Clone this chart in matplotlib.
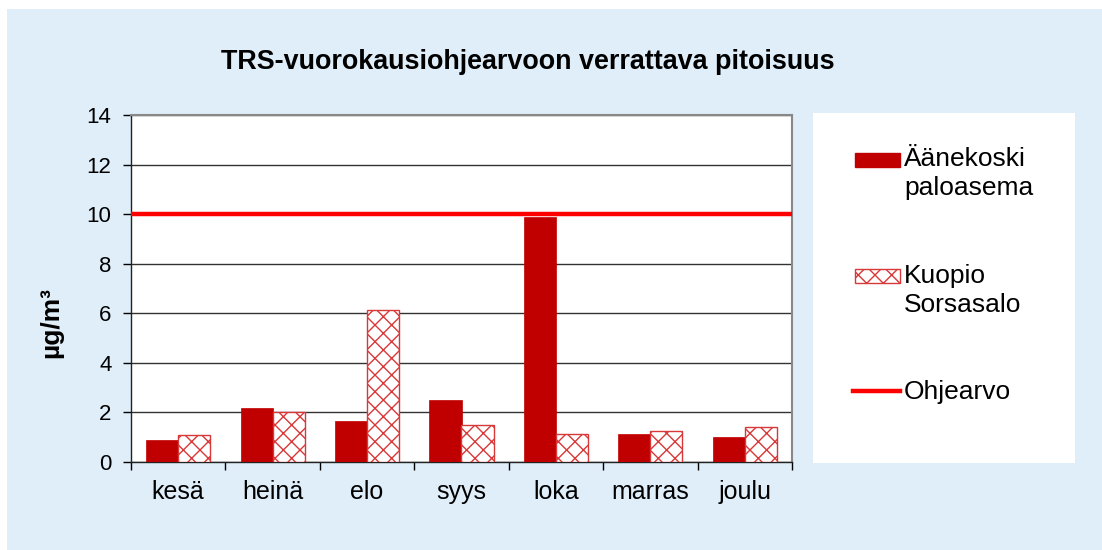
import numpy as np
import matplotlib
matplotlib.use('Agg')
import matplotlib.pyplot as plt
from matplotlib.patches import Rectangle

plt.rcParams['font.family'] = ['Liberation Sans', 'DejaVu Sans']
plt.rcParams['hatch.linewidth'] = 1.0

# data
months = ['kesä', 'heinä', 'elo', 'syys', 'loka', 'marras', 'joulu']
aanekoski = [0.88, 2.19, 1.67, 2.50, 9.90, 1.14, 1.01]
kuopio = [1.09, 2.03, 6.14, 1.48, 1.13, 1.26, 1.40]
ohjearvo = 10
yticks = [0, 2, 4, 6, 8, 10, 12, 14]
title = 'TRS-vuorokausiohjearvoon verrattava pitoisuus'
ylabel = 'µg/m³'
labels = ['Äänekoski\npaloasema', 'Kuopio\nSorsasalo', 'Ohjearvo']

W, H = 1102, 550
bg = '#dfeef9'
dark_red = '#c00000'
hatch_red = '#d83838'
line_red = '#ff0000'


def fx(px):
    return px / W


def fy(py):
    return 1 - py / H


fig = plt.figure(figsize=(W / 100, H / 100), dpi=100)
fig.patch.set_facecolor('white')
# light blue chart area (white margin at top and left)
fig.patches.append(Rectangle((fx(7), 0), 1 - fx(7), fy(9), transform=fig.transFigure,
                             facecolor=bg, edgecolor='none', zorder=-10))
# white legend box
fig.patches.append(Rectangle((fx(813), fy(463)), fx(1075 - 813), (463 - 113) / H,
                             transform=fig.transFigure, facecolor='white', edgecolor='none', zorder=-5))

ax = fig.add_axes([fx(131), fy(462), fx(792 - 131), (462 - 115) / H])
ax.set_facecolor('white')

x = np.arange(len(months))
bw = 0.34
ax.bar(x - bw / 2, aanekoski, bw, color=dark_red, edgecolor=dark_red, linewidth=0.5, zorder=3)
ax.bar(x + bw / 2, kuopio, bw, color='white', edgecolor=hatch_red, hatch='xx', linewidth=1.0, zorder=3)
ax.axhline(ohjearvo, color=line_red, linewidth=3.2, zorder=4)

ax.set_xlim(-0.5, len(months) - 0.5)
ax.set_ylim(0, 14)
ax.set_yticks(yticks)
ax.set_xticks(x)
ax.set_xticklabels(months, fontsize=18)
ax.tick_params(axis='y', labelsize=16, length=6, width=1, direction='out', pad=8)
ax.tick_params(axis='x', length=0, pad=13)
# category separator ticks
ax.set_xticks(np.arange(-0.5, len(months)), minor=True)
ax.tick_params(axis='x', which='minor', length=6, width=1, direction='out')
ax.grid(axis='y', color='#333333', linewidth=1.0, zorder=0)
ax.set_axisbelow(True)
for s in ['top', 'right']:
    ax.spines[s].set_color('#888888')
    ax.spines[s].set_linewidth(1.5)
for s in ['left', 'bottom']:
    ax.spines[s].set_color('#222222')
    ax.spines[s].set_linewidth(1.0)

fig.text(fx(51), fy(322), ylabel, rotation=90, fontsize=19, fontweight='bold',
         ha='center', va='center')
fig.text(fx(528), fy(62), title, fontsize=19.4, fontweight='bold', ha='center', va='center')

# legend, drawn by hand so the key sits next to the first text line
fig.patches.append(Rectangle((fx(855), fy(167)), fx(45), 14 / H, transform=fig.transFigure,
                             facecolor=dark_red, edgecolor=dark_red))
fig.patches.append(Rectangle((fx(855), fy(283)), fx(45), 14 / H, transform=fig.transFigure,
                             facecolor='white', edgecolor=hatch_red, hatch='xx', linewidth=1.0))
fig.add_artist(plt.Line2D([fx(853), fx(900)], [fy(391), fy(391)], color=line_red,
                          linewidth=3.2, transform=fig.transFigure))
for lab, ytop in zip(labels, [147, 264, 380]):
    fig.text(fx(904), fy(ytop), lab, fontsize=19, ha='left', va='top', linespacing=1.25)

fig.savefig('out.png', dpi=100, facecolor=fig.get_facecolor())
